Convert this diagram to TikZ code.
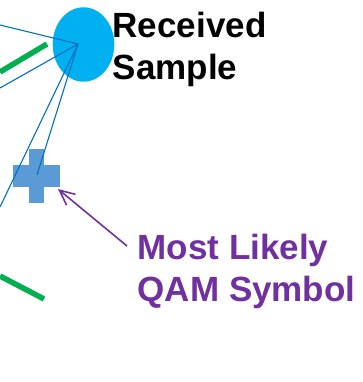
\documentclass[tikz,border=0pt]{standalone}
\usepackage{fontspec}
\setmainfont{Liberation Sans}
\usetikzlibrary{shapes.geometric,arrows.meta}
\definecolor{samplecyan}{HTML}{00B0F0}
\definecolor{rayblue}{HTML}{0070C0}
\definecolor{gridgreen}{HTML}{00B050}
\definecolor{plusblue}{HTML}{5B9BD5}
\definecolor{labelpurple}{HTML}{7030A0}
\tikzset{
  ray/.style={draw=rayblue, line width=1.1pt},
  gridline/.style={draw=gridgreen, line width=5.5pt},
  bigtext/.style={inner sep=0pt, anchor=base west, font=\fontsize{35}{42}\selectfont\bfseries},
  pointer/.style={draw=labelpurple, line width=1.6pt, -{Straight Barb[length=15pt,width=14pt,line width=1.6pt]}}
}
\begin{document}
\begin{tikzpicture}[x=1pt,y=-1pt]
\useasboundingbox (0,0) rectangle (362,382);
% green grid lines
\coordinate (g1a) at (0,72);
\coordinate (g1b) at (47,44);
\coordinate (g2a) at (0,276);
\coordinate (g2b) at (44,299);
\draw[gridline] (g1a) -- (g1b);
\draw[gridline] (g2a) -- (g2b);
% received sample
\node[ellipse, fill=samplecyan, minimum width=61.6pt, minimum height=74.4pt, inner sep=0pt] (sample) at (83.5,44.5) {};
% most likely QAM symbol (plus)
\fill[plusblue] (29,149) rectangle (44,203);
\fill[plusblue] (13,165) rectangle (60,187);
\coordinate (qam) at (37,175);
% rays
\coordinate (hub) at (78,44);
\coordinate (r1) at (0,25);
\coordinate (r2) at (0,88);
\coordinate (r3) at (0,207);
\draw[ray] (r1) -- (hub);
\draw[ray] (r2) -- (hub);
\draw[ray] (r3) -- (hub);
\draw[ray] (qam) -- (hub);
% labels
\node[bigtext] (rs1) at (112.5,38) {Received};
\node[bigtext] (rs2) at (112.5,80) {Sample};
\node[bigtext, text=labelpurple] (ml1) at (137.5,259) {Most Likely};
\node[bigtext, text=labelpurple] (ml2) at (137.5,301) {QAM Symbol};
% pointer
\coordinate (ptail) at (127,246);
\coordinate (ptip) at (58,189);
\draw[pointer] (ptail) -- (ptip);
\end{tikzpicture}
\end{document}
